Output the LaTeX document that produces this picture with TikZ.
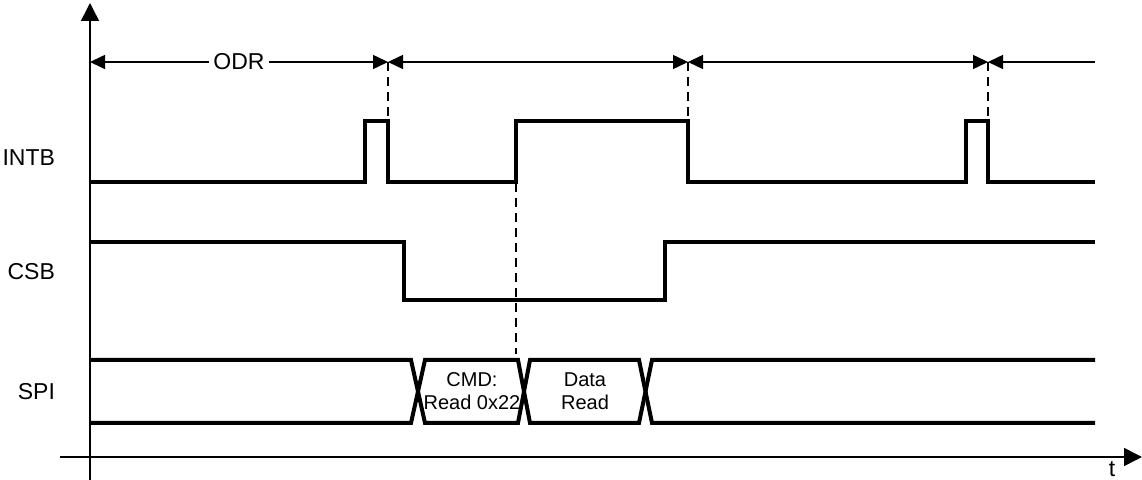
\documentclass[tikz,border=0pt]{standalone}
\usepackage{fontspec}
\setmainfont{Liberation Sans}
\usetikzlibrary{arrows.meta}
\tikzset{sig/.style={line width=2pt}}
\tikzset{ax/.style={line width=0.75pt}}
\tikzset{dsh/.style={line width=1pt, dash pattern=on 4.5pt off 3pt}}
\tikzset{l/.style={font=\fontsize{11.5}{11.5}\selectfont}}
\tikzset{m/.style={font=\fontsize{10}{11.5}\selectfont, align=center}}
\tikzset{big/.style={-{Triangle[length=9pt,width=9pt]}}}
\tikzset{>={Triangle[length=7.5pt,width=7pt]}}

\begin{document}
\begin{tikzpicture}[x=0.5pt,y=-0.5pt]
    \useasboundingbox (0,0) rectangle (1142,480);
    % axes
    \coordinate (ybot) at (90,480);
    \coordinate (ytop) at (90,3);
    \coordinate (xl) at (60,457);
    \coordinate (xr) at (1142,457);
    \draw [ax, big] (ybot) -- (ytop);
    \draw [ax, big] (xl) -- (xr);
    \node [l] (t) at (1112,469) {t};
    % ODR markers
    \coordinate (m0) at (90,62);
    \coordinate (m1) at (388,62);
    \coordinate (m2) at (688,62);
    \coordinate (m3) at (988,62);
    \coordinate (m4) at (1095,62);
    \draw [ax, <->] (m0) -- node [l, fill=white, inner sep=2pt] (odr) {ODR} (m1);
    \draw [ax, <->] (m1) -- (m2);
    \draw [ax, <->] (m2) -- (m3);
    \draw [ax, <-] (m3) -- (m4);
    \coordinate (d1) at (388,120);
    \coordinate (d2) at (688,120);
    \coordinate (d3) at (988,120);
    \coordinate (e0) at (516,183);
    \coordinate (e1) at (516,354);
    \draw [dsh] (m1) -- (d1);
    \draw [dsh] (m2) -- (d2);
    \draw [dsh] (m3) -- (d3);
    \draw [dsh] (e0) -- (e1);
    % signal names
    \node [l, anchor=east] (intb) at (62,158) {INTB};
    \node [l, anchor=east] (csb) at (62,272) {CSB};
    \node [l, anchor=east] (spi) at (62,392) {SPI};
    % waveforms
    \draw [sig] (90,182) -- (365,182) -- (365,121) -- (388,121) -- (388,182)
      -- (516,182) -- (516,121) -- (688,121) -- (688,182)
      -- (966,182) -- (966,121) -- (988,121) -- (988,182) -- (1095,182);
    \draw [sig] (90,242) -- (404,242) -- (404,300) -- (665,300) -- (665,242) -- (1095,242);
    \draw [sig] (90,360) -- (411,360) -- (425,423) -- (518,423) -- (530,360)
      -- (639,360) -- (652,423) -- (1095,423);
    \draw [sig] (90,423) -- (411,423) -- (425,360) -- (518,360) -- (530,423)
      -- (639,423) -- (652,360) -- (1095,360);
    \node [m] (cmd) at (472,391) {CMD:\\Read 0x22};
    \node [m] (data) at (585,391) {Data\\Read};
\end{tikzpicture}
\end{document}
